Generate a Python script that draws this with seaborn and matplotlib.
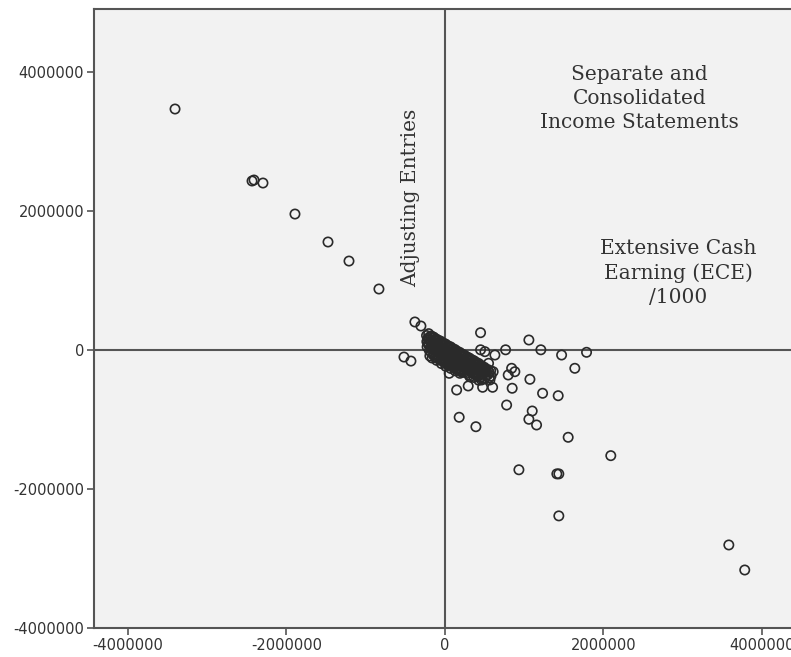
import numpy as np
import pandas as pd
import seaborn as sns
import matplotlib.pyplot as plt

# scattered points (thousands)
out_x = [-3407, -2435, -2410, -2297, -1893, -1476, -1211, -833, -379, -303, -517, -429,
         450, 1060, 1211, 1473, 1788, 1640, 766, 631, 842, 883, 799, 1073, 849, 1233,
         1430, 779, 1102, 1060, 1157, 180, 391, 1556, 2094, 148, 294, 476, 602, 54,
         934, 1413, 1438, 1438, 3584, 3785, 450, 505, 551, 609, 568, 463, 315, 231]
out_y = [3462, 2427, 2441, 2398, 1952, 1550, 1276, 874, 400, 342, -104, -162,
         246, 141, 0, -75, -36, -266, 0, -75, -266, -315, -362, -424, -553, -625,
         -660, -794, -880, -999, -1081, -970, -1106, -1258, -1522, -578, -520, -539, -539, -338,
         -1725, -1784, -1784, -2388, -2806, -3166, 0, -27, -194, -315, -434, -434, -387, -243]

# dense cluster around the origin (thousands)
cl_x = [-232, -228, -225, -205, -198, -201, -196, -190, -172, -168, -165, -170, -162,
        -143, -138, -141, -136, -112, -108, -111, -106, -104, -83, -79, -77, -81,
        -52, -48, -51, -47, -45, -22, -18, -21, -17, 8, 12, 9, 13, 11,
        38, 42, 41, 37, 72, 68, 71, 69, 73, 98, 102, 101, 97,
        128, 132, 131, 127, 129, 158, 162, 161, 157, 188, 192, 191, 187, 189,
        218, 222, 221, 217, 248, 252, 251, 247, 278, 282, 281, 277,
        308, 312, 311, 307, 338, 342, 341, 368, 372, 371, 367, 398, 402, 401,
        428, 432, 431, 427, 462, 458, 461, 498, 502, 501, 538, 542, 578, 582]
cl_y = [205, 118, 42, 232, 148, 71, -12, -88, 198, 122, 37, -43, -118,
        183, 97, 22, -58, 157, 83, -3, -78, -152, 138, 62, -18, -102,
        123, 38, -42, -118, -198, 97, 22, -63, -138, 83, -2, -78, -162, -238,
        58, -22, -102, -178, 42, -38, -122, -198, -268, 18, -62, -138, -222,
        3, -78, -162, -238, -302, -22, -98, -182, -258, -38, -122, -198, -282, -338,
        -62, -138, -222, -298, -78, -162, -238, -322, -102, -178, -262, -338,
        -118, -202, -278, -362, -142, -218, -302, -158, -242, -318, -398, -182, -258, -342,
        -198, -282, -358, -438, -228, -312, -388, -252, -328, -412, -282, -358, -302, -378]

# more cluster points filling the gaps (thousands)
cl2_x = [-215, -212, -186, -183, -180, -155, -152, -150, -147, -125, -122, -120, -118,
         -95, -92, -90, -88, -65, -62, -60, -58, -35, -33, -30, -28, -6, -3, -1, 2,
         24, 27, 29, 31, 55, 57, 59, 61, 84, 87, 89, 91, 114, 116, 118, 121,
         145, 147, 149, 151, 174, 176, 179, 181, 204, 207, 209, 211, 234, 236, 239,
         264, 266, 268, 294, 296, 299, 324, 326, 329, 354, 356, 359, 385, 387, 389,
         415, 417, 419, 445, 447, 449, 480, 482, 520, 522, 558, 560]
cl2_y = [165, 85, 190, 110, 30, 165, 85, 5, -75, 140, 60, -20, -110, 120, 40, -40, -125,
         100, 20, -60, -150, 80, 0, -80, -160, 60, -20, -100, -190, 40, -40, -120, -210,
         20, -60, -140, -230, 0, -80, -160, -240, -20, -100, -180, -260,
         -40, -120, -200, -280, -60, -140, -220, -300, -80, -160, -240, -320, -100, -180, -260,
         -120, -200, -280, -140, -220, -300, -160, -240, -320, -180, -260, -340, -200, -280, -360,
         -220, -300, -380, -240, -320, -400, -270, -350, -290, -370, -320, -400]

ticks = [-4000000, -2000000, 0, 2000000, 4000000]

df = pd.DataFrame({
    "x": np.array(out_x + cl_x + cl2_x) * 1000,
    "y": np.array(out_y + cl_y + cl2_y) * 1000,
})

sns.set_style("white")
fig = plt.figure(figsize=(7.91, 6.57), dpi=100)
ax = fig.add_axes([94 / 791, 29 / 657, 705 / 791, 619 / 657])
ax.set_facecolor("#f2f2f2")

ax.axhline(0, color="#555555", lw=1.5, zorder=1)
ax.axvline(0, color="#555555", lw=1.5, zorder=1)

sns.scatterplot(data=df, x="x", y="y", ax=ax, marker="o", s=45,
                fc="none", ec="#2a2a2a", linewidth=1.2, zorder=3)

ax.set_xlim(-4.43e6, 4.47e6)
ax.set_ylim(-4.0e6, 4.9e6)
ax.set_xticks(ticks)
ax.set_yticks(ticks)
ax.set_xticklabels([str(t) for t in ticks])
ax.set_yticklabels([str(t) for t in ticks])
ax.tick_params(direction="out", length=5, width=1.2, color="#555555",
               labelsize=10.5, labelcolor="#333333", pad=2, left=True, bottom=True)
ax.set_xlabel("")
ax.set_ylabel("")
for s in ax.spines.values():
    s.set_color("#555555")
    s.set_linewidth(1.5)

serif = dict(family="DejaVu Serif", fontsize=14.5, color="#333333",
             ha="center", va="center", linespacing=1.35)
ax.text(2.46e6, 3.61e6, "Separate and\nConsolidated\nIncome Statements", **serif)
ax.text(2.946e6, 1.104e6, "Extensive Cash\nEarning (ECE)\n/1000", **serif)
ax.text(-0.429e6, 2.19e6, "Adjusting Entries", rotation=90, **serif)

fig.savefig("out.png", dpi=100)
